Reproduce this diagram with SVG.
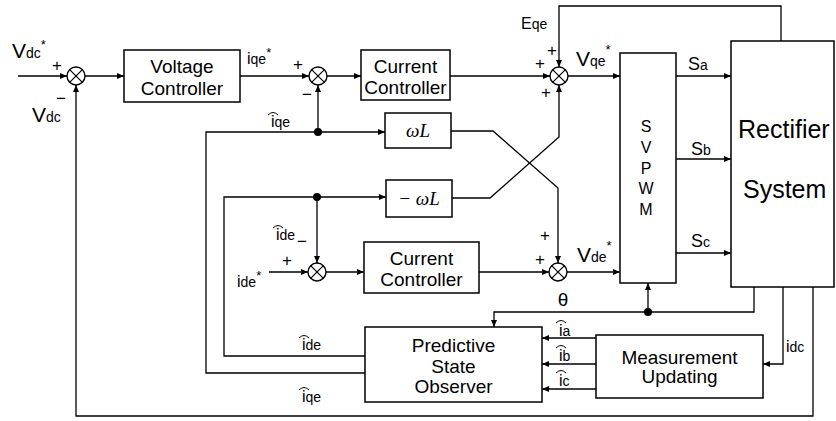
<svg xmlns="http://www.w3.org/2000/svg" width="836" height="421" viewBox="0 0 836 421">
<style>
.box{fill:#fff;stroke:#000;stroke-width:1.5}
.ln{fill:none;stroke:#000;stroke-width:1.3}
.ar{marker-end:url(#ah)}
.hat{fill:none;stroke:#000;stroke-width:1}
.dot{fill:#000}
text{font-family:"Liberation Sans",Arial,sans-serif;fill:#000}
.t{font-size:19px;text-anchor:middle}
.big{font-size:21px}
.e{font-size:16px}
.i{font-size:16px}
.s{font-size:14px}
.st{font-size:13px}
.sg{font-size:17px;text-anchor:middle}
.sv{font-size:16px;text-anchor:middle}
.w{font-family:"Liberation Serif",serif;font-style:italic;font-size:19px;text-anchor:middle}
.rs{font-size:25px}
</style>
<defs>
<marker id="ah" viewBox="0 0 7 6" refX="7" refY="3" markerWidth="7" markerHeight="6" markerUnits="userSpaceOnUse" orient="auto">
<path d="M0,0 L7,3 L0,6 z" fill="#000"/>
</marker>
<g id="sj">
<circle r="9" fill="#fff" stroke="#000" stroke-width="1.4"/>
<path d="M-6.4,-6.4 L6.4,6.4 M-6.4,6.4 L6.4,-6.4" stroke="#000" stroke-width="1.2"/>
</g>
</defs>
<rect width="836" height="421" fill="#fff"/>

<g id="connectors">
<path class="ln ar" d="M18,76 H67"/>
<path class="ln ar" d="M85,76 H124"/>
<path class="ln ar" d="M240,76 H309"/>
<path class="ln ar" d="M327,76 H361"/>
<path class="ln ar" d="M450,76 H550"/>
<path class="ln ar" d="M568,76 H620"/>
<path class="ln ar" d="M676,76 H731"/>
<path class="ln ar" d="M676,159 H731"/>
<path class="ln ar" d="M676,253 H731"/>
<path class="ln ar" d="M781,41 V6 H559 V67"/>
<path class="ln ar" d="M365,373 H206 V132 H385"/>
<path class="ln ar" d="M318,132 V85"/>
<path class="ln ar" d="M365,356 H224 V197 H386"/>
<path class="ln ar" d="M317,197 V263"/>
<path class="ln ar" d="M451,131 H493 L558,188 V263"/>
<path class="ln ar" d="M452,198 H490 L559,137 V85"/>
<path class="ln ar" d="M269,272 H308"/>
<path class="ln ar" d="M326,272 H364"/>
<path class="ln ar" d="M479,272 H549"/>
<path class="ln ar" d="M567,272 H620"/>
<path class="ln ar" d="M754,287 V312 H494 V327"/>
<path class="ln ar" d="M648,312 V283"/>
<path class="ln ar" d="M813,287 V416 H76 V85"/>
<path class="ln ar" d="M783,287 V364 H763"/>
<path class="ln ar" d="M596,338 H542"/>
<path class="ln ar" d="M596,364 H542"/>
<path class="ln ar" d="M596,389 H542"/>
<circle class="dot" cx="318" cy="132" r="4"/>
<circle class="dot" cx="317" cy="197" r="4"/>
<circle class="dot" cx="648" cy="312" r="4"/>
</g>

<g id="sum1"><use href="#sj" x="76" y="76"/></g>
<g id="sum2"><use href="#sj" x="318" y="76"/></g>
<g id="sum3"><use href="#sj" x="559" y="76"/></g>
<g id="sum4"><use href="#sj" x="558" y="272"/></g>
<g id="sum5"><use href="#sj" x="317" y="272"/></g>

<g id="voltage-controller">
<rect class="box" x="124" y="50" width="116" height="52"/>
<text class="t" x="182" y="73">Voltage</text>
<text class="t" x="182" y="95">Controller</text>
</g>
<g id="current-controller-q">
<rect class="box" x="361" y="50" width="89" height="50"/>
<text class="t" x="405.5" y="73">Current</text>
<text class="t" x="405.5" y="94">Controller</text>
</g>
<g id="current-controller-d">
<rect class="box" x="364" y="242" width="115" height="51"/>
<text class="t" x="421.5" y="265">Current</text>
<text class="t" x="421.5" y="286">Controller</text>
</g>
<g id="wL">
<rect class="box" x="385" y="113" width="66" height="35"/>
<text class="w" x="418" y="137">ωL</text>
</g>
<g id="minus-wL">
<rect class="box" x="386" y="180" width="66" height="37"/>
<text class="w" x="419" y="205">− ωL</text>
</g>
<g id="svpwm">
<rect class="box" x="620" y="53" width="56" height="230"/>
<text class="sv" x="646" y="132">S</text>
<text class="sv" x="646" y="153">V</text>
<text class="sv" x="646" y="174">P</text>
<text class="sv" x="646" y="194">W</text>
<text class="sv" x="646" y="215">M</text>
</g>
<g id="rectifier">
<rect class="box" x="731" y="41" width="103" height="246"/>
<text class="rs" x="738" y="138">Rectifier</text>
<text class="rs" x="743" y="198">System</text>
</g>
<g id="observer">
<rect class="box" x="365" y="327" width="177" height="75"/>
<text class="t" x="453.5" y="352">Predictive</text>
<text class="t" x="453.5" y="373">State</text>
<text class="t" x="453.5" y="393">Observer</text>
</g>
<g id="measurement">
<rect class="box" x="596" y="335" width="167" height="63"/>
<text class="t" x="679.5" y="364">Measurement</text>
<text class="t" x="679.5" y="383">Updating</text>
</g>

<g id="labels">
<text x="12" y="58"><tspan class="big">V</tspan><tspan class="s">dc</tspan><tspan class="st" dy="-9">*</tspan></text>
<text class="sg" x="57" y="71">+</text>
<text class="sg" x="61" y="104">−</text>
<text x="32" y="122"><tspan class="big">V</tspan><tspan class="s">dc</tspan></text>
<text x="247" y="64"><tspan class="i">i</tspan><tspan class="s">qe</tspan><tspan class="st" dy="-7">*</tspan></text>
<text class="sg" x="298" y="70">+</text>
<text class="sg" x="307" y="100">−</text>
<text x="271" y="127"><tspan class="i">i</tspan><tspan class="s">qe</tspan></text>
<path class="hat" d="M268,115 Q273,110 278,115"/>
<text x="521" y="29"><tspan class="e">E</tspan><tspan class="s">qe</tspan></text>
<text class="sg" x="552" y="56">+</text>
<text class="sg" x="540" y="69">+</text>
<text class="sg" x="546" y="98">+</text>
<text x="576" y="66"><tspan class="big">V</tspan><tspan class="s">qe</tspan><tspan class="st" dy="-12">*</tspan></text>
<text x="688" y="70"><tspan style="font-size:18px">S</tspan><tspan class="s">a</tspan></text>
<text x="691" y="155"><tspan style="font-size:18px">S</tspan><tspan class="s">b</tspan></text>
<text x="691" y="247"><tspan style="font-size:18px">S</tspan><tspan class="s">c</tspan></text>
<text x="276" y="240"><tspan class="i">i</tspan><tspan class="s">de</tspan></text>
<path class="hat" d="M273,228 Q278,223 283,228"/>
<text class="sg" x="302" y="247">−</text>
<text class="sg" x="287" y="266">+</text>
<text x="237" y="287"><tspan class="i">i</tspan><tspan class="s">de</tspan><tspan class="st" dy="-7">*</tspan></text>
<text class="sg" x="545" y="241">+</text>
<text class="sg" x="540" y="265">+</text>
<text x="577" y="262"><tspan class="big">V</tspan><tspan class="s">de</tspan><tspan class="st" dy="-12">*</tspan></text>
<text x="563" y="306" style="font-size:19px;text-anchor:middle">θ</text>
<text x="302" y="350"><tspan class="i">i</tspan><tspan class="s">de</tspan></text>
<path class="hat" d="M299,338 Q304,333 309,338"/>
<text x="302" y="402"><tspan class="i">i</tspan><tspan class="s">qe</tspan></text>
<path class="hat" d="M299,390 Q304,385 309,390"/>
<text x="559" y="336"><tspan class="i">i</tspan><tspan class="s">a</tspan></text>
<path class="hat" d="M556,323 Q561,318 566,323"/>
<text x="559" y="361"><tspan class="i">i</tspan><tspan class="s">b</tspan></text>
<path class="hat" d="M556,348 Q561,343 566,348"/>
<text x="559" y="386"><tspan class="i">i</tspan><tspan class="s">c</tspan></text>
<path class="hat" d="M556,373 Q561,368 566,373"/>
<text x="786" y="352"><tspan class="i">i</tspan><tspan class="s">dc</tspan></text>
</g>
</svg>
